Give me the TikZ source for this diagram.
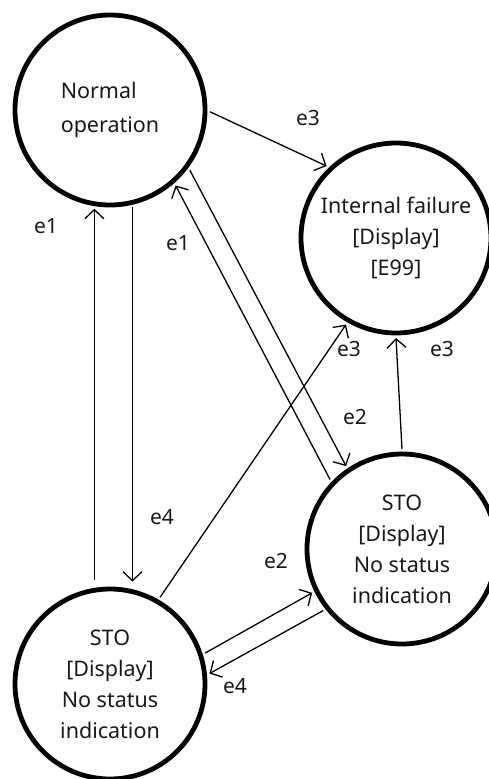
\documentclass[tikz,border=0pt]{standalone}
\usepackage{fontspec}
\setmainfont{Noto Sans}
\usepackage{tikz}
\usetikzlibrary{arrows.meta, positioning}

\begin{document}
\begin{tikzpicture}[
      x=1pt, y=-1pt,
      state/.style={circle, draw=black, line width=4.8pt, minimum size=190pt, inner sep=0pt, outer sep=5pt, align=center, text=black!90, font=\fontsize{21.5}{31}\selectfont},
      trans/.style={-{Straight Barb[length=9pt,width=19pt]}, line width=1.3pt},
      evt/.style={font=\fontsize{21}{22}\selectfont, text=black!90, inner sep=0pt}
    ]
    \useasboundingbox (0,0) rectangle (489,779);
    \node[state, align=left, font=\fontsize{21.5}{34}\selectfont] (normal) at (110,110) {Normal\\operation};
    \node[state] (fail) at (396,238) {Internal failure\\{}[Display]\\{}[E99]};
    \node[state] (stoB) at (402,549) {STO\\{}[Display]\\No status\\indication};
    \node[state] (stoA) at (110,684) {STO\\{}[Display]\\No status\\indication};

    % normal <-> sto (left column)
    \draw[trans, shorten <=5pt] (stoA.99.8) -- (normal.-99.8);
    \draw[trans, shorten >=5pt] (normal.-77.3) -- (stoA.77.3);
    % normal <-> sto (diagonal)
    \draw[trans] (stoB.136) -- (normal.-49);
    \draw[trans] (normal.-37) -- (stoB.124);
    % to internal failure
    \draw[trans] (normal.-1) -- (fail.134);
    \draw[trans] (stoA.60) -- (fail.-120.6);
    \draw[trans] (stoB.north) -- (fail.south);
    % sto <-> sto
    \draw[trans] (stoA.18) -- (stoB.-154);
    \draw[trans] (stoB.-142) -- (stoA.6);

    \node[evt] (e1a) at (46,226) {e1};
    \node[evt] (e4a) at (162,517) {e4};
    \node[evt] (e1b) at (178,243) {e1};
    \node[evt] (e2a) at (355,417) {e2};
    \node[evt] (e3a) at (308,118) {e3};
    \node[evt] (e3b) at (349,349) {e3};
    \node[evt] (e3c) at (442,349) {e3};
    \node[evt] (e2b) at (276,561) {e2};
    \node[evt] (e4b) at (235,686) {e4};
  \end{tikzpicture}
\end{document}
